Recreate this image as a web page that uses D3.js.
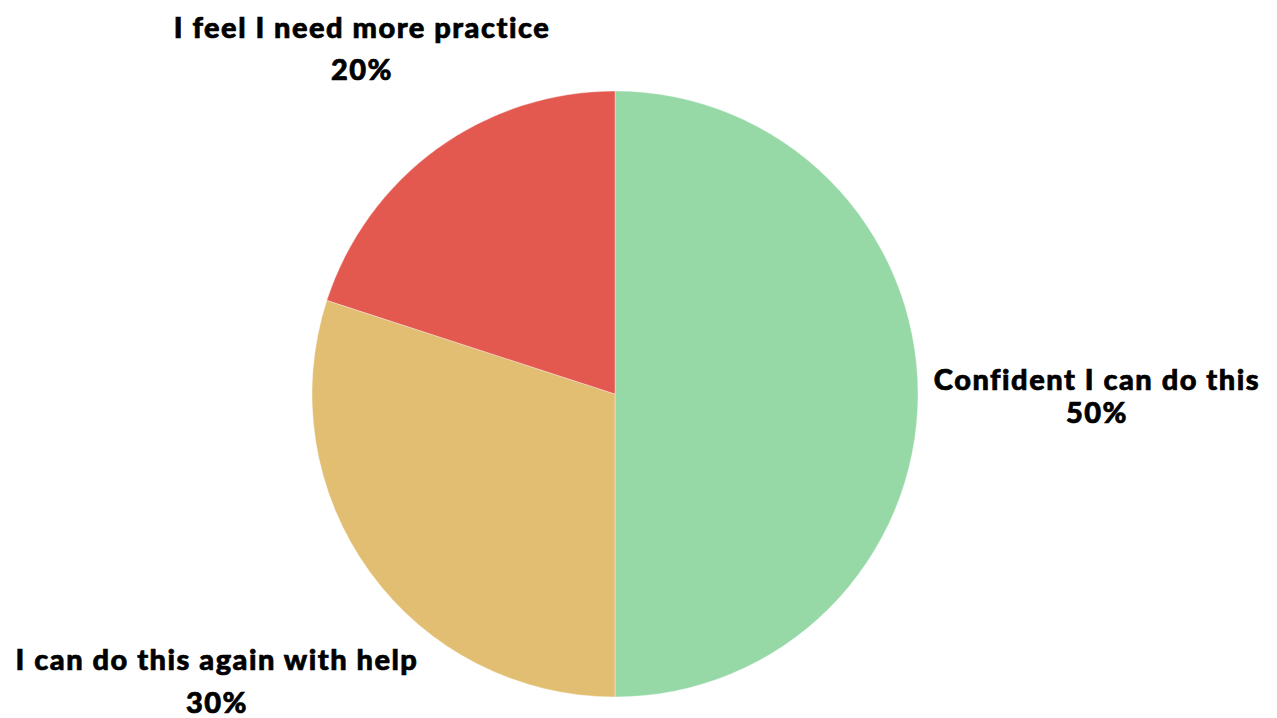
<!DOCTYPE html>
<html>
<head>
<meta charset="utf-8">
<script src="https://cdn.jsdelivr.net/npm/d3@7/dist/d3.min.js"></script>
<style>
  html, body { margin: 0; padding: 0; background: #ffffff; }
  svg { display: block; }
  text { font-family: "Lato", "Open Sans", sans-serif; font-weight: 900; fill: #000; stroke: #000; stroke-width: 0.7px; letter-spacing: 1.5px; }
</style>
</head>
<body>
<svg id="chart" width="1277" height="718"></svg>
<script>
// Survey responses
const categories = ["Confident I can do this", "I can do this again with help", "I feel I need more practice"];
const values = [50, 30, 20];
const colors = ["#97D8A7", "#E2BE72", "#E3584F"];

const width = 1277, height = 718;
const cx = 615, cy = 394, radius = 303;

const svg = d3.select("#chart");
const g = svg.append("g").attr("transform", `translate(${cx},${cy})`);

const pie = d3.pie().sort(null).value(d => d.value);
const arc = d3.arc().innerRadius(0).outerRadius(radius);

const data = categories.map((c, i) => ({ name: c, value: values[i], color: colors[i] }));
const arcs = pie(data);

g.selectAll("path.slice")
  .data(arcs)
  .join("path")
  .attr("class", "slice")
  .attr("d", arc)
  .attr("fill", d => d.data.color)
  .attr("stroke", "rgba(255,255,255,0.35)")
  .attr("stroke-width", 1);

// Label blocks: centre x and first-line baseline, relative to the pie centre
const labelLayout = [
  { dx: 482, y1: -4, gap: 33 },
  { dx: -398, y1: 276, gap: 43 },
  { dx: -253, y1: -356, gap: 42 }
];

const labels = g.selectAll("g.label")
  .data(arcs)
  .join("g")
  .attr("class", "label")
  .attr("transform", (d, i) => `translate(${labelLayout[i].dx},${labelLayout[i].y1})`);

labels.append("text")
  .attr("text-anchor", "middle")
  .attr("font-size", 29)
  .text(d => d.data.name);

labels.append("text")
  .attr("text-anchor", "middle")
  .attr("font-size", 29)
  .attr("y", (d, i) => labelLayout[i].gap)
  .text(d => d.data.value + "%");
</script>
</body>
</html>
